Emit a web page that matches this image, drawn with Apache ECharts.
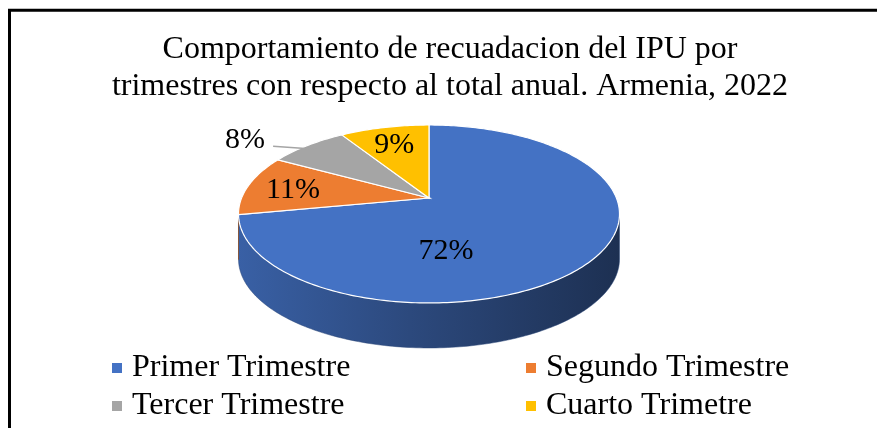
<!DOCTYPE html>
<html>
<head>
<meta charset="utf-8">
<script src="https://cdn.jsdelivr.net/npm/echarts@6/dist/echarts.min.js"></script>
<style>
  html, body { margin: 0; padding: 0; overflow: hidden; background: #fff; }
  #main { width: 900px; height: 440px; }
</style>
</head>
<body>
<div id="main"></div>
<script>
// datos del grafico
const categories = ['Primer Trimestre', 'Segundo Trimestre', 'Tercer Trimestre', 'Cuarto Trimetre'];
const shares = [72, 11, 8, 9];

// estilos
const sliceColors = ['#4472C4', '#ED7D31', '#A5A5A5', '#FFC000'];
const labelPlace = ['inside', 'inside', 'outside', 'inside'];
const serif = "'Liberation Serif', 'Times New Roman', serif";

// geometria de la torta 3D (perspectiva)
const CX = 429, AY = 198;      // centro proyectado de la cara superior
const RX = 187.4, RY = 86.1;   // semiejes
const K = 0.1797;              // factor de perspectiva
const DEPTH = 45;              // grosor
const TR = Math.acos(-K) * 180 / Math.PI;
const TL = 360 - TR;

const total = shares.reduce((a, b) => a + b, 0);

function project(deg, r, drop) {
  const t = deg * Math.PI / 180;
  const s = Math.sin(t), c = Math.cos(t);
  const den = 1 + K * r * c;
  return [CX + RX * r * s / den, AY - RY * r * c / den + drop];
}

function arc(a, b, r, drop) {
  const n = Math.max(2, Math.ceil(Math.abs(b - a)));
  const pts = [];
  for (let j = 0; j <= n; j++) pts.push(project(a + (b - a) * j / n, r, drop));
  return pts;
}

function centroid(pts) {
  let A = 0, cx = 0, cy = 0;
  for (let i = 0; i < pts.length; i++) {
    const p = pts[i], q = pts[(i + 1) % pts.length];
    const cr = p[0] * q[1] - q[0] * p[1];
    A += cr; cx += (p[0] + q[0]) * cr; cy += (p[1] + q[1]) * cr;
  }
  A /= 2;
  return [cx / (6 * A), cy / (6 * A), Math.abs(A)];
}

function shade(hex, f) {
  const n = parseInt(hex.slice(1), 16);
  const r = Math.round(((n >> 16) & 255) * f);
  const g = Math.round(((n >> 8) & 255) * f);
  const b = Math.round((n & 255) * f);
  return 'rgb(' + r + ',' + g + ',' + b + ')';
}

function renderSlice(params, api) {
  const i = params.seriesIndex;
  const value = api.value(0);
  let before = 0;
  for (let k = 0; k < i; k++) before += shares[k];
  const start = before / total * 360;
  const end = start + value / total * 360;
  const mid = (start + end) / 2;
  const color = api.visual('color');
  const children = [];

  const top = [[CX, AY]].concat(arc(start, end, 1, 0));
  children.push({
    type: 'polygon',
    shape: { points: top },
    style: { fill: color, stroke: '#fff', lineWidth: 1.2 },
    z2: 5
  });
  let parts = [centroid(top)];

  const a = Math.max(start, TR), b = Math.min(end, TL);
  if (b > a) {
    const side = arc(a, b, 1, 0).concat(arc(b, a, 1, DEPTH));
    children.push({
      type: 'polygon',
      shape: { points: side },
      style: {
        fill: new echarts.graphic.LinearGradient(0, 0, 1, 0, [
          { offset: 0, color: shade(color, 0.84) },
          { offset: 0.45, color: shade(color, 0.64) },
          { offset: 1, color: shade(color, 0.42) }
        ]),
        stroke: shade(color, 0.6), lineWidth: 0.5
      },
      z2: 1
    });
    parts.push(centroid(side));
  }

  const pct = Math.round(value / total * 100) + '%';
  const font = { fill: '#000', fontSize: 30, fontFamily: serif, verticalAlign: 'middle' };
  if (labelPlace[i] === 'inside') {
    let pos;
    if (value / total > 0.25) {
      // rebanada grande: centroide de la forma visible
      let w = 0, lx = 0, ly = 0;
      parts.forEach(p => { w += p[2]; lx += p[0] * p[2]; ly += p[1] * p[2]; });
      pos = [lx / w, ly / w];
    } else {
      pos = project(mid, 0.75, 0);
    }
    children.push({
      type: 'text',
      style: Object.assign({ text: pct, x: pos[0], y: pos[1] + 2, align: 'center' }, font),
      z2: 10
    });
  } else {
    const anchor = project(mid, 0.92, 0);
    const elbow = [anchor[0] - 43, anchor[1] - 3];
    children.push({
      type: 'polyline',
      shape: { points: [anchor, elbow] },
      style: { stroke: '#a5a5a5', lineWidth: 1.5, fill: null },
      z2: 8
    });
    children.push({
      type: 'text',
      style: Object.assign({ text: pct, x: elbow[0] - 8, y: elbow[1] - 6, align: 'right' }, font),
      z2: 10
    });
  }
  return { type: 'group', children: children };
}

const legendText = { fontFamily: serif, fontSize: 32, color: '#000', lineHeight: 32, padding: [0, 0, 0, 5] };

const chart = echarts.init(document.getElementById('main'));
chart.setOption({
  animation: false,
  color: sliceColors,
  title: {
    text: 'Comportamiento de recuadacion del IPU por\ntrimestres con respecto al total anual. Armenia, 2022',
    left: 'center',
    top: 31,
    padding: 0,
    textStyle: { fontFamily: serif, fontSize: 32, fontWeight: 'normal', color: '#000', lineHeight: 37 }
  },
  legend: [
    {
      data: [categories[0], categories[2]],
      orient: 'vertical',
      left: 112, top: 352, padding: 0,
      icon: 'rect', itemWidth: 10, itemHeight: 10, itemGap: 6,
      textStyle: legendText
    },
    {
      data: [categories[1], categories[3]],
      orient: 'vertical',
      left: 526, top: 352, padding: 0,
      icon: 'rect', itemWidth: 10, itemHeight: 10, itemGap: 6,
      textStyle: legendText
    }
  ],
  graphic: [{
    type: 'rect',
    shape: { x: 9.5, y: 10.3, width: 880, height: 425 },
    style: { fill: null, stroke: '#000', lineWidth: 3 },
    silent: true
  }],
  series: categories.map((name, i) => ({
    name: name,
    type: 'custom',
    coordinateSystem: 'none',
    itemStyle: { color: sliceColors[i] },
    renderItem: renderSlice,
    data: [[shares[i]]]
  }))
});
</script>
</body>
</html>
